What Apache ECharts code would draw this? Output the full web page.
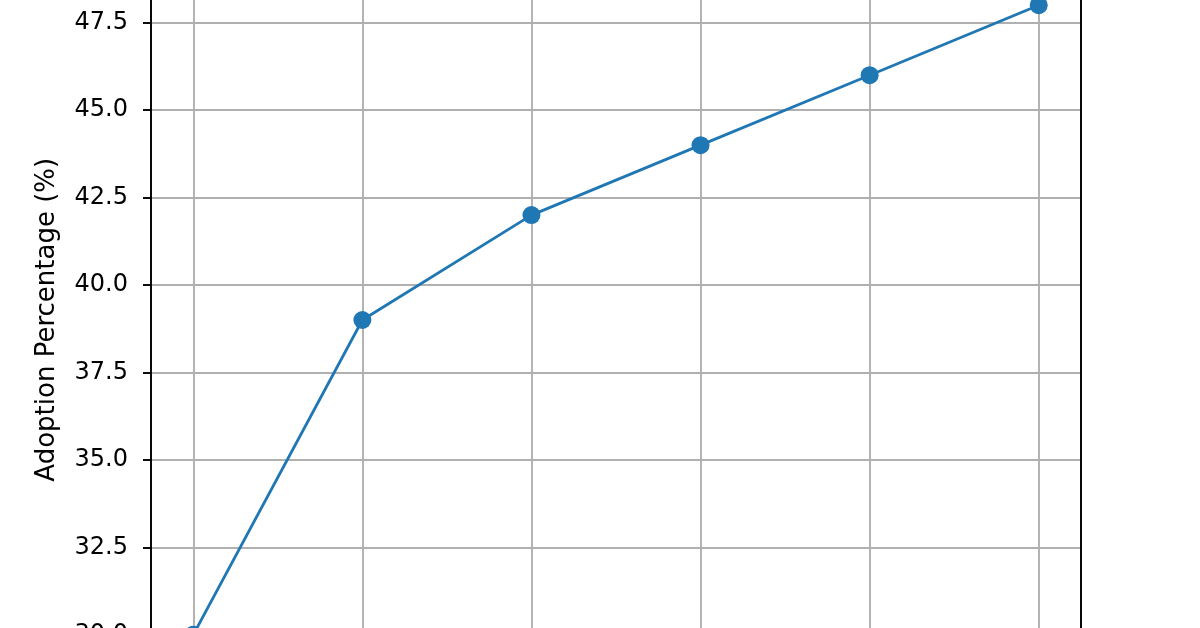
<!DOCTYPE html>
<html>
<head>
<meta charset="utf-8">
<script src="https://cdn.jsdelivr.net/npm/echarts@6/dist/echarts.min.js"></script>
<style>
  html, body { margin: 0; padding: 0; background: #fff; }
  #main { width: 1200px; height: 628px; }
</style>
</head>
<body>
<div id="main"></div>
<script>
// data (x labels are cut off in the reference)
var categories = ['2018', '2019', '2020', '2021', '2022', '2023'];
var adoption = [30, 39, 42, 44, 46, 48];
var yTicks = [27.5, 50]; // axis range, every 2.5

var chartDom = document.getElementById('main');
var myChart = echarts.init(chartDom, null, { renderer: 'canvas' });

var points = categories.map(function (c, i) { return [i, adoption[i]]; });
var font = 'DejaVu Sans';

var option = {
    animation: false,
    backgroundColor: '#ffffff',
    grid: {
        left: 151,
        width: 930,
        top: -64.7,
        height: 786.9,
        containLabel: false,
        outerBoundsMode: 'none'
    },
    xAxis: {
        type: 'value',
        min: -0.25,
        max: 5.25,
        axisLine: { show: true, onZero: false, lineStyle: { color: '#000', width: 1.9 } },
        axisTick: { show: true, length: 8, lineStyle: { color: '#000', width: 1.9 } },
        axisLabel: {
            color: '#000', fontFamily: font, fontSize: 24,
            formatter: function (v) { return categories[v] || ''; }
        },
        splitLine: { show: true, lineStyle: { color: '#b0b0b0', width: 1.9 } }
    },
    yAxis: [
        {
            type: 'value',
            min: yTicks[0],
            max: yTicks[1],
            interval: 2.5,
            name: 'Adoption Percentage (%)',
            nameLocation: 'middle',
            nameRotate: 90,
            nameGap: 91,
            nameTextStyle: { color: '#000', fontFamily: font, fontSize: 26, padding: [0, 0, 0, 18] },
            axisLine: { show: true, onZero: false, lineStyle: { color: '#000', width: 1.9 } },
            axisTick: { show: true, length: 8, lineStyle: { color: '#000', width: 1.9 } },
            axisLabel: {
                color: '#000', fontFamily: font, fontSize: 24, margin: 23,
                formatter: function (v) { return v.toFixed(1); }
            },
            splitLine: { show: true, lineStyle: { color: '#b0b0b0', width: 1.9 } }
        },
        {
            type: 'value',
            position: 'right',
            min: yTicks[0],
            max: yTicks[1],
            interval: 2.5,
            axisLine: { show: true, onZero: false, lineStyle: { color: '#000', width: 1.9 } },
            axisTick: { show: false },
            axisLabel: { show: false },
            splitLine: { show: false }
        }
    ],
    series: [
        {
            type: 'line',
            data: points,
            symbol: 'circle',
            symbolSize: 18,
            itemStyle: { color: '#1f77b4' },
            lineStyle: { color: '#1f77b4', width: 2.8 }
        }
    ]
};
myChart.setOption(option);
</script>
</body>
</html>
